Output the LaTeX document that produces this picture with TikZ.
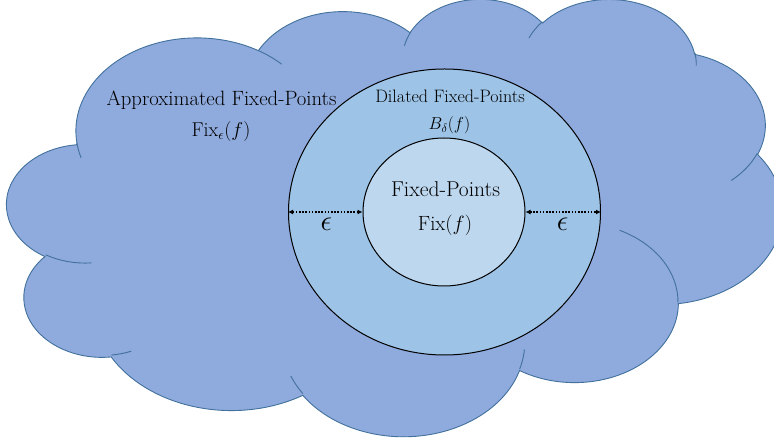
\RequirePackage{fix-cm}
\documentclass[tikz,border=0pt]{standalone}
\usepackage{fontspec}
\usetikzlibrary{arrows.meta,shapes.geometric}

\definecolor{cloudfill}{HTML}{8FAADC}
\definecolor{cloudline}{HTML}{41719C}
\definecolor{dilfill}{HTML}{9DC3E6}
\definecolor{fixfill}{HTML}{BDD7EE}

% one lobe of the cloud outline: radii w,h, start angle and sweep given as
% visual (polar) angles, converted to the parametric angles of the ellipse
\tikzset{
  lobe/.style n args={4}{insert path={
    arc[start angle={pa(#1,#2,#3)},
        delta angle={mod(pa(#1,#2,(#3)+(#4))-pa(#1,#2,#3)+720,360)},
        x radius=#1pt, y radius=#2pt]}},
}

\begin{document}
\begin{tikzpicture}[x=1pt,y=1pt,
  declare function={pa(\w,\h,\t)=atan2((\w)*sin(\t),(\h)*cos(\t));},
  cloudedge/.style={draw=cloudline, line width=0.9pt},
  ring/.style={ellipse, draw=black, line width=1pt, inner sep=0pt},
  lbl/.style={anchor=base, inner sep=0pt, text=black},
  gap/.style={line width=1.6pt, dash pattern=on 1.6pt off 1.6pt,
    arrows={Latex[length=5pt,width=5pt]-Latex[length=5pt,width=5pt]}},
  epslbl/.style={inner sep=0pt, font=\fontsize{29}{33}\selectfont},
]
\useasboundingbox (0,0) rectangle (774,444);
\clip (0,0) rectangle (774,444);

% cloud
\begin{scope}[shift={(7,446)}, xscale=17.95, yscale=-10.12]
  \path[fill=cloudfill, cloudedge] (3.900,14.370)
    [lobe={6.753}{9.190}{-190.4875}{123.7805}]
    [lobe={5.333}{7.267}{-144.1024}{89.9452}]
    [lobe={4.365}{5.945}{-145.8079}{99.7230}]
    [lobe={4.857}{6.595}{-130.9861}{117.2417}]
    [lobe={5.333}{7.273}{-78.7089}{109.0269}]
    [lobe={6.775}{9.220}{-46.2673}{130.2690}]
    [lobe={5.785}{7.867}{0.6250}{114.0333}]
    [lobe={6.752}{9.215}{22.4516}{115.1726}]
    [lobe={7.720}{10.543}{66.2426}{75.7110}]
    [lobe={4.360}{5.918}{-274.9421}{146.7356}]
    [lobe={4.345}{5.945}{-246.8285}{152.5189}]
    -- cycle;
  % short inner arcs where the lobes overlap
  \draw[cloudedge] (4.693,26.177) [lobe={4.345}{5.945}{86.742}{26.4295}];
  \draw[cloudedge] (6.928,34.899) [lobe={4.360}{5.918}{73.6105}{11.4475}];
  \draw[cloudedge] (16.478,39.090) [lobe={6.752}{9.215}{137.6242}{14.0811}];
  \draw[cloudedge] (28.827,34.751) [lobe={6.752}{9.215}{6.4533}{15.9984}];
  \draw[cloudedge] (34.129,22.954) [lobe={5.785}{7.867}{-70.2924}{70.9174}];
  \draw[cloudedge] (41.798,15.354) [lobe={5.333}{7.273}{30.3180}{27.7515}];
  \draw[cloudedge] (38.324,5.426) [lobe={4.857}{6.595}{-13.7443}{14.8589}];
  \draw[cloudedge] (29.078,3.952) [lobe={4.857}{6.595}{-149.1815}{18.1954}];
  \draw[cloudedge] (22.141,4.720) [lobe={4.365}{5.945}{-163.4943}{17.6864}];
  \draw[cloudedge] (14.000,5.192) [lobe={6.753}{9.190}{-66.7070}{12.3194}];
  \draw[cloudedge] (4.127,15.789) [lobe={6.753}{9.190}{157.6544}{11.8582}];
\end{scope}

% dilated set and fixed-point set
\node[ring, fill=dilfill, minimum width=312pt, minimum height=286pt] (dil) at (444.5,232) {};
\node[ring, fill=fixfill, minimum width=162pt, minimum height=148pt] (fix) at (444,232) {};

% epsilon gaps
\draw[gap] (dil.west) -- (fix.west);
\draw[gap] (fix.east) -- (dil.east);
\node[epslbl] (epsl) at (326.3,219.5) {$\epsilon$};
\node[epslbl] (epsr) at (562.5,220) {$\epsilon$};

% labels
\node[lbl, font=\fontsize{20.7}{24}\selectfont] (approx) at (221.5,338) {Approximated Fixed-Points};
\node[lbl, font=\fontsize{20}{24}\selectfont] (approxsym) at (221,307) {$\mathrm{Fix}_\epsilon(f)$};
\node[lbl, font=\fontsize{18}{22}\selectfont] (dilt) at (450,341) {Dilated Fixed-Points};
\node[lbl, font=\fontsize{17.3}{21}\selectfont] (dilsym) at (449.5,314) {$B_\delta(f)$};
\node[lbl, font=\fontsize{21.5}{25}\selectfont] (fixt) at (445.5,247) {Fixed-Points};
\node[lbl, font=\fontsize{20.6}{24}\selectfont] (fixsym) at (445,213.5) {$\mathrm{Fix}(f)$};
\end{tikzpicture}
\end{document}
